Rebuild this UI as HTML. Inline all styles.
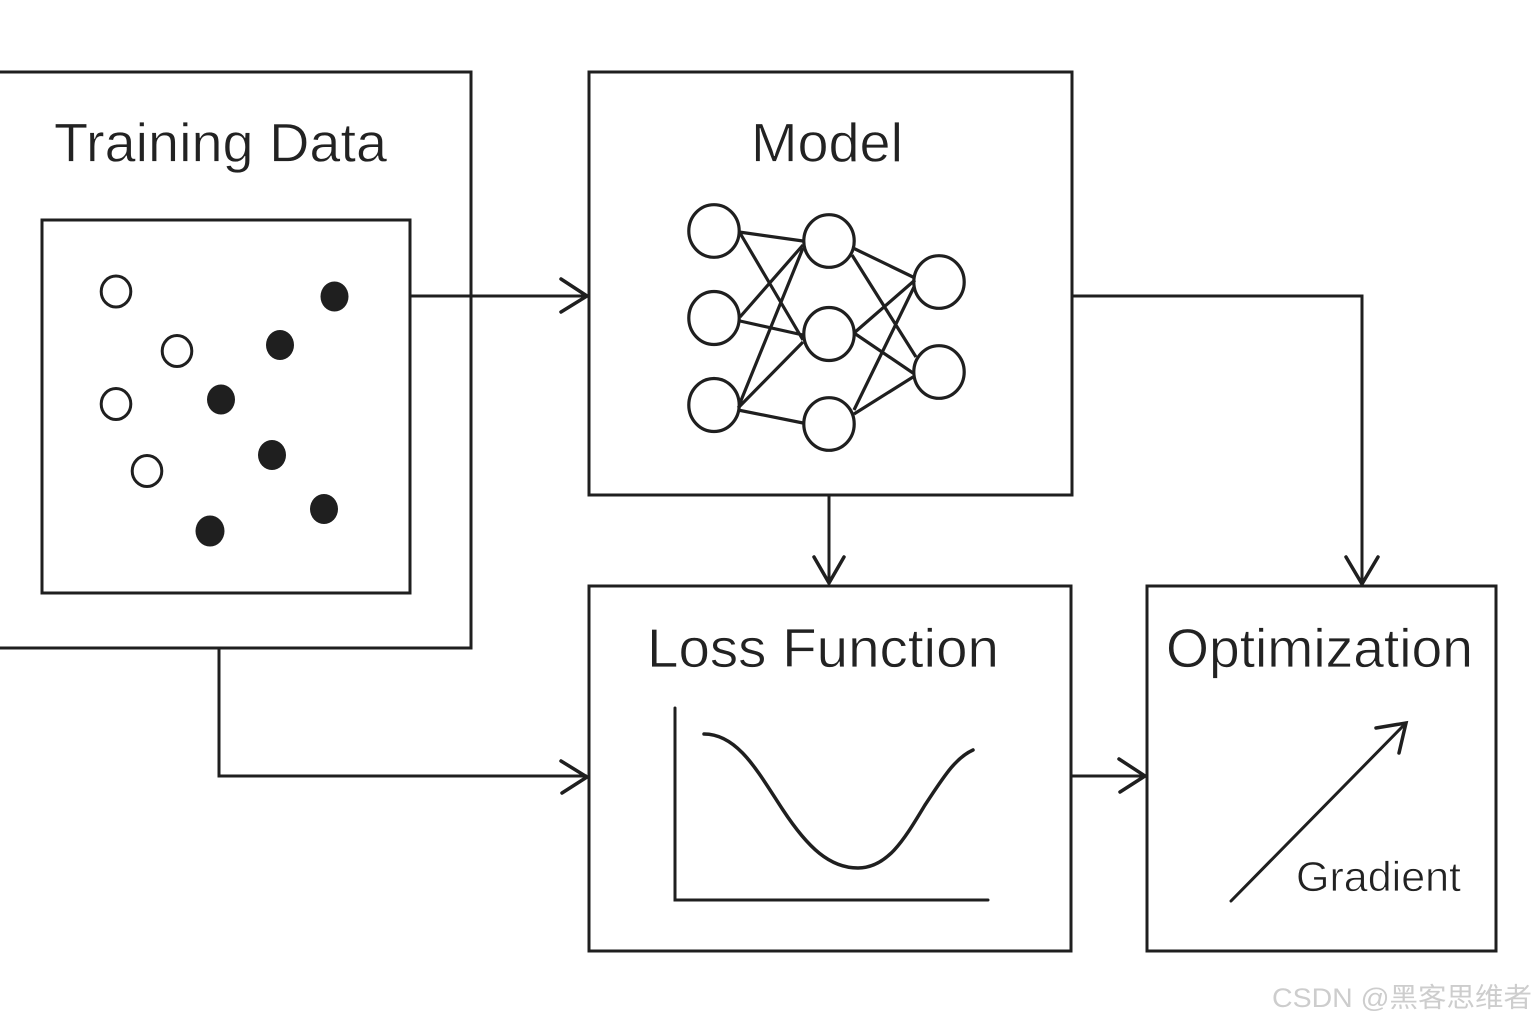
<!DOCTYPE html>
<html><head><meta charset="utf-8"><style>html,body{margin:0;padding:0;background:#fff}svg{display:block}</style></head>
<body>
<svg width="1536" height="1024" viewBox="0 0 1536 1024" xmlns="http://www.w3.org/2000/svg">
<rect width="1536" height="1024" fill="#fff"/>
<g fill="none" stroke="#1f1f1f" stroke-width="3">
<path d="M0 72H471V648H0"/>
<rect x="42" y="220" width="368" height="373"/>
<rect x="589" y="72" width="483" height="423"/>
<rect x="589" y="586" width="482" height="365"/>
<rect x="1147" y="586" width="349" height="365"/>
<path d="M411 296H587"/>
<path d="M1072 296H1362V584"/>
<path d="M829 495V583"/>
<path d="M219 648V776H587"/>
<path d="M1071 776H1145"/>
<g stroke-width="3.500" stroke-linecap="round" stroke-linejoin="miter">
<path d="M561 279L587 296L561 312"/>
<path d="M1346 557L1362 584L1378 557"/>
<path d="M814 557L829 583L844 557"/>
<path d="M561 761L587 777L562 793"/>
<path d="M1119 759L1145 776L1120 792"/>
<path d="M1376 728L1406 723L1399 753"/>
</g>
<g stroke-linecap="round">
<path d="M675 708V900H988"/>
<path stroke-width="3.500" d="M704 734C738 734 758 772 783 810C808 848 830 868 858 868C888 868 905 838 925 805C943 778 955 758 973 750"/>
<path d="M1231 901L1406 723"/>
</g>
<g stroke-width="3.200">
<path d="M739 232L803 241M740 233L803 340M740 317L803 245M740 321L803 335M740 403L803 248M738 408L803 342M738 410L803 423"/>
<path d="M853 248L915 278M852 255L916 357M854 333L915 280M854 333L913 373M854 410L914 287M854 414L913 377"/>
<ellipse cx="714" cy="231" rx="25.200" ry="26.300"/><ellipse cx="714" cy="318" rx="25.200" ry="26.500"/><ellipse cx="714" cy="405" rx="25.200" ry="26.500"/>
<ellipse cx="829" cy="241" rx="25.200" ry="26.300"/><ellipse cx="829" cy="334" rx="25.200" ry="26.500"/><ellipse cx="829" cy="424" rx="25.200" ry="26.300"/>
<ellipse cx="939" cy="282" rx="25.200" ry="26.300"/><ellipse cx="939" cy="372" rx="25.200" ry="26.300"/>
</g>
<g stroke-width="3">
<ellipse cx="116" cy="291.500" rx="14.800" ry="15.500"/><ellipse cx="177" cy="351" rx="14.800" ry="15.500"/><ellipse cx="116" cy="404" rx="14.800" ry="15.500"/><ellipse cx="147" cy="471" rx="14.800" ry="15.500"/>
</g>
</g>
<g fill="#1f1f1f">
<ellipse cx="334.500" cy="296.500" rx="14" ry="15"/><ellipse cx="280" cy="345" rx="14" ry="15"/><ellipse cx="221" cy="399.500" rx="14" ry="15"/><ellipse cx="272" cy="455" rx="14" ry="15"/><ellipse cx="324" cy="509" rx="14" ry="15"/><ellipse cx="210" cy="531" rx="14.500" ry="15.500"/>
</g>
<g font-family="'Liberation Sans',sans-serif" fill="#222" stroke="#fff" stroke-width="0.700">
<text x="54" y="161.500" font-size="55" textLength="333" lengthAdjust="spacingAndGlyphs">Training Data</text>
<text x="751" y="161.500" font-size="55" textLength="152" lengthAdjust="spacingAndGlyphs">Model</text>
<text x="647" y="667" font-size="55" textLength="352" lengthAdjust="spacingAndGlyphs">Loss Function</text>
<text x="1166" y="667" font-size="55" textLength="307" lengthAdjust="spacingAndGlyphs">Optimization</text>
<text x="1296" y="891" font-size="42" textLength="165" lengthAdjust="spacingAndGlyphs">Gradient</text>
</g>
<text x="1272" y="1007" font-size="27" fill="#cdcdcd" font-family="'Liberation Sans','Noto Sans CJK SC',sans-serif" textLength="260" lengthAdjust="spacingAndGlyphs">CSDN @黑客思维者</text>
</svg>
</body></html>
